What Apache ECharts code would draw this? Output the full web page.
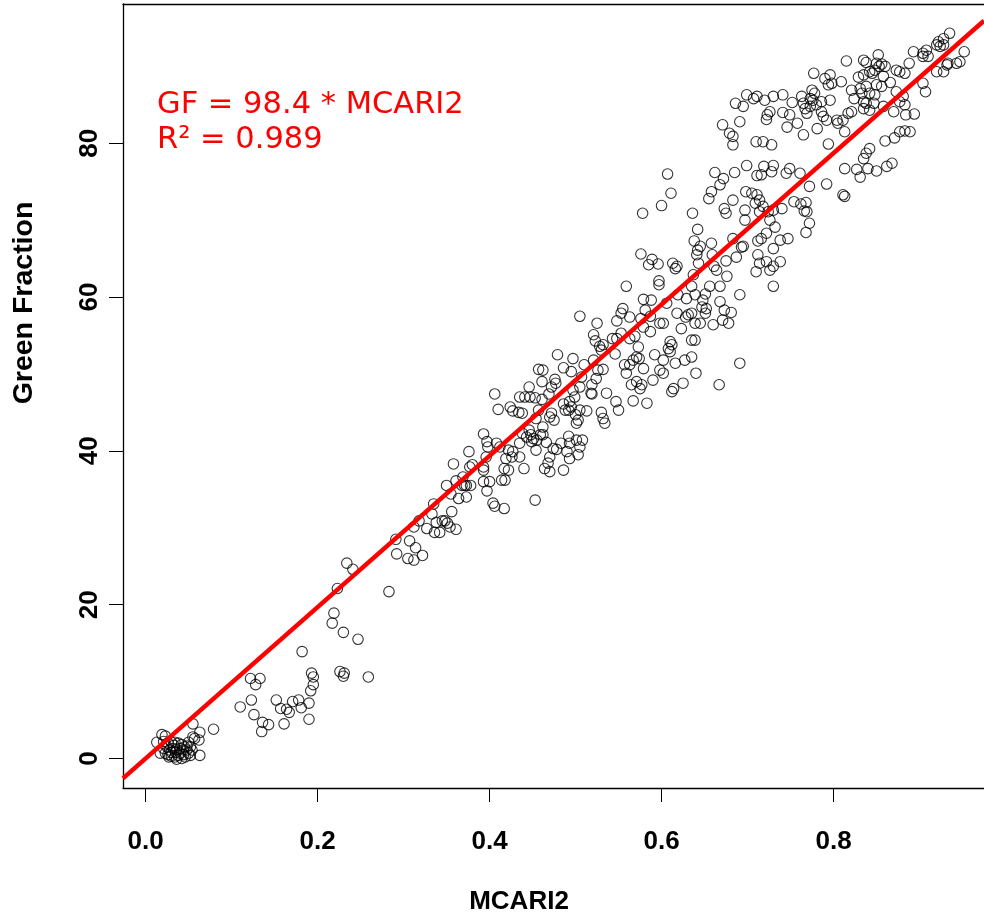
<!DOCTYPE html>
<html><head><meta charset="utf-8">
<script src="https://cdn.jsdelivr.net/npm/echarts@6/dist/echarts.min.js"></script>
<style>html,body{margin:0;padding:0;background:#fff}#c{width:984px;height:913px}</style>
</head><body><div id="c"></div>
<script>
// MCARI2 (x) and Green Fraction (y)
const mcari2 = [
0.013,0.019,0.023,0.021,0.026,0.030,0.034,0.038,0.042,0.048,0.052,0.055,0.055,0.063,0.062,0.057,0.079,0.063,0.017,0.023,0.026,0.030,0.034,0.036,0.040,0.044,0.050,0.052,0.028,0.032,0.036,0.040,0.044,0.048,0.025,0.021,0.030,0.035,0.042,0.050,0.054,0.038,0.046,0.033,0.045,0.027,
0.234,0.241,0.223,0.219,0.217,0.230,0.247,0.182,0.193,0.195,0.195,0.192,0.190,0.190,0.226,0.231,0.230,0.259,0.122,0.133,0.128,0.123,0.110,0.152,0.157,0.164,0.167,0.171,0.178,0.181,0.126,0.136,0.143,0.135,0.161,
0.283,0.291,0.292,0.307,0.314,0.305,0.312,0.322,0.312,0.318,0.327,0.333,0.335,0.338,0.336,0.342,0.345,0.348,0.351,0.356,0.354,0.361,0.350,0.355,0.358,0.361,0.364,0.368,0.371,0.373,0.378,0.369,0.373,0.376,0.377,0.380,0.393,0.397,0.398,0.396,0.393,0.393,0.393,0.400,0.397,0.404,0.406,0.406,0.410,
0.576,0.589,0.585,0.596,0.559,0.597,0.597,0.555,0.553,0.548,0.563,0.579,0.588,0.581,0.587,0.576,0.579,0.587,0.598,0.525,0.521,0.523,0.528,0.532,0.530,0.505,0.543,0.548,0.553,0.546,0.563,0.569,0.573,0.571,0.574,0.567,0.563,0.557,0.559,0.579,0.592,0.590,0.565,0.571,0.577,0.575,0.567,0.583,0.550,0.547,0.536,0.519,0.518,0.526,0.532,0.524,0.521,0.510,0.497,0.479,0.486,0.495,0.507,0.505,0.497,0.457,0.462,0.461,0.476,0.477,0.472,0.446,0.435,0.441,0.447,0.453,0.461,0.469,0.486,0.493,0.499,0.495,0.492,0.488,0.500,0.505,0.513,0.501,0.503,0.519,0.530,0.532,0.534,0.472,0.475,0.470,0.462,0.457,0.454,0.438,0.434,0.427,0.424,0.446,0.448,0.451,0.455,0.443,0.449,0.459,0.462,0.466,0.454,0.438,0.435,0.474,0.478,0.470,0.468,0.464,0.470,0.483,0.492,0.493,0.490,0.493,0.501,0.505,0.508,0.503,0.486,0.440,0.435,0.426,0.427,0.422,0.419,0.417,0.422,0.414,0.418,0.453,0.412,0.408,0.417,
0.683,0.710,0.718,0.728,0.607,0.662,0.672,0.685,0.699,0.711,0.716,0.719,0.730,0.728,0.745,0.668,0.658,0.655,0.611,0.600,0.578,0.636,0.673,0.675,0.683,0.698,0.705,0.711,0.714,0.709,0.697,0.697,0.714,0.718,0.724,0.730,0.740,0.726,0.732,0.722,0.642,0.638,0.645,0.642,0.658,0.683,0.693,0.695,0.712,0.716,0.738,0.747,0.730,
0.613,0.618,0.616,0.641,0.643,0.637,0.635,0.639,0.629,0.635,0.639,0.631,0.659,0.661,0.664,0.675,0.676,0.668,0.656,0.651,0.648,0.647,0.652,0.660,0.645,0.651,0.668,0.673,0.671,0.678,0.681,0.687,0.691,0.710,0.712,0.714,0.722,0.726,0.730,0.738,0.730,0.691,0.667,0.640,0.625,0.614,0.612,0.635,0.627,0.616,0.610,0.612,0.608,0.610,0.602,0.598,0.635,0.639,0.623,0.618,0.628,0.602,0.619,0.606,0.602,
0.686,0.695,0.699,0.707,0.711,0.720,0.730,0.741,0.671,0.691,0.679,0.683,0.726,0.723,0.722,0.741,0.752,0.749,0.746,0.758,0.765,0.781,0.763,0.765,0.773,0.767,0.769,0.776,0.778,0.775,0.773,0.780,0.786,0.788,0.792,0.786,0.777,0.790,0.796,0.798,0.794,0.809,0.796,0.804,0.805,0.811,0.817,0.821,0.813,0.815,0.821,0.824,0.831,0.833,0.835,0.829,0.835,0.835,0.838,0.842,0.845,0.848,0.852,0.850,0.853,0.856,0.860,0.858,0.856,0.838,0.842,0.848,0.850,0.838,0.842,0.835,0.847,0.858,0.866,0.873,0.877,0.883,0.888,0.873,0.893,0.904,0.908,0.910,0.920,0.924,0.928,0.932,0.933,0.943,0.947,0.952,0.920,0.904,0.907,0.794,0.761,0.772,0.792,0.749,0.811,0.813,0.813,0.827,0.831,0.840,0.850,0.862,0.868,0.835,0.838,0.842,0.860,0.871,0.877,0.883,0.889,0.870,0.877,0.883,0.884,0.894,
0.935,0.928,0.922,0.904,0.928,0.881,
0.754,0.762,0.768,0.766,0.769,0.772,0.768
];
const greenFraction = [
2.1,3.1,2.9,2.2,2.0,2.1,2.1,2.0,1.8,1.6,1.5,2.8,4.5,3.4,2.4,2.6,3.8,0.4,0.7,0.7,0.5,0.3,0.2,-0.1,0.7,0.5,0.7,0.4,1.1,1.3,1.2,1.3,1.1,1.1,1.5,1.3,0.8,0.8,0.0,2.1,1.1,0.4,0.2,1.7,1.5,0.2,
25.4,24.6,22.1,18.9,17.6,16.4,15.5,13.9,11.1,10.6,9.6,8.8,7.2,5.1,11.3,11.1,10.7,10.6,10.4,10.4,9.6,7.6,6.7,7.6,6.5,6.4,6.0,7.4,7.6,6.6,5.7,4.7,4.4,3.5,4.5,
21.7,28.5,26.6,28.3,27.4,26.0,25.8,26.4,30.1,30.9,29.9,31.8,33.1,30.7,29.4,29.4,30.9,30.9,30.6,32.1,30.1,29.8,35.5,34.4,38.3,36.1,33.8,35.5,35.5,35.5,35.5,36.6,34.0,39.9,37.9,38.2,42.2,41.2,40.5,39.2,37.9,37.5,36.0,36.0,34.8,33.2,32.8,47.4,45.4,
65.6,64.9,64.2,64.3,61.4,62.1,61.6,58.5,57.9,56.9,57.4,59.7,59.6,58.3,57.5,57.2,56.1,55.5,56.6,56.6,55.1,54.3,53.6,53.8,53.1,57.5,54.6,54.6,55.3,52.6,54.6,54.9,53.5,52.2,52.0,51.8,51.2,51.2,50.1,50.7,52.5,49.2,48.6,49.0,48.6,48.1,46.5,46.2,45.3,46.4,47.5,48.6,47.5,50.5,50.6,49.4,51.8,51.2,52.0,52.5,50.8,50.3,49.6,48.3,47.9,50.6,50.5,49.0,49.3,48.8,48.3,48.3,47.0,47.0,47.0,46.9,46.7,47.4,46.1,46.4,47.0,45.7,45.3,45.3,44.7,45.3,45.2,43.6,44.0,47.4,45.0,44.2,43.6,44.9,44.0,44.4,43.1,45.3,44.2,44.9,45.0,45.2,45.7,42.7,42.1,41.6,41.4,41.8,41.2,42.1,42.1,41.1,40.1,42.3,41.0,40.3,40.2,39.2,38.4,37.7,37.3,41.0,41.9,41.0,39.9,39.0,41.4,40.5,41.4,39.5,37.5,37.7,39.2,39.2,39.9,40.1,39.0,37.7,37.5,36.2,36.2,33.6,40.5,41.0,32.5,
79.8,80.2,80.2,79.8,76.0,76.2,75.4,76.2,77.1,75.8,75.9,77.0,77.1,76.3,76.1,74.6,73.7,72.8,73.5,71.9,70.9,70.9,71.5,70.9,72.6,73.7,73.5,73.3,72.6,72.2,71.3,70.0,71.1,71.8,71.1,71.3,71.5,70.0,69.1,68.3,68.8,67.3,66.6,66.1,67.0,67.6,66.5,66.6,67.3,67.6,67.4,67.6,66.3,
64.4,64.0,63.7,65.5,64.4,62.9,61.4,60.3,59.8,57.9,56.6,57.7,65.5,64.0,63.5,64.7,62.7,61.4,61.4,60.4,59.6,58.7,58.5,56.4,56.6,57.9,59.4,58.3,57.0,56.6,58.0,65.2,60.3,63.3,65.5,64.4,64.6,63.5,64.0,64.6,61.4,51.4,48.6,50.1,48.8,48.1,47.7,52.2,51.8,51.4,54.2,53.8,53.3,52.9,51.8,50.5,54.4,54.4,55.9,57.9,57.4,56.6,60.3,59.2,50.1,
85.2,84.8,86.3,85.8,86.1,85.6,86.1,86.3,82.4,82.8,81.3,80.9,84.1,83.7,83.1,84.0,85.3,83.7,82.1,82.6,81.1,81.9,86.1,85.2,85.8,84.5,83.9,85.6,86.5,86.9,84.8,85.0,85.4,83.5,83.0,84.1,89.1,88.4,88.9,87.8,87.6,88.0,85.6,83.0,82.6,83.0,83.9,84.1,81.5,90.7,86.9,85.8,87.1,86.5,85.4,88.6,88.9,90.8,90.5,89.3,89.1,89.5,91.5,90.4,90.0,90.3,90.0,88.7,87.4,87.4,86.5,86.3,87.6,85.2,84.3,84.5,85.2,84.8,87.9,89.5,89.3,89.1,90.4,86.7,91.9,91.7,92.1,91.3,92.8,92.6,92.8,90.2,90.4,90.4,90.6,91.9,89.3,87.8,86.7,79.9,76.1,74.4,74.7,76.7,73.3,73.1,76.7,76.6,75.6,76.7,76.4,77.0,77.4,78.0,78.7,79.3,80.3,80.7,81.5,81.6,81.5,84.1,85.4,85.0,83.7,83.8,
94.3,93.6,93.2,91.3,89.3,86.1,
72.4,72.1,72.3,71.2,71.1,69.6,68.4
];
const slope = 98.4;          // fitted GF = 98.4 * MCARI2
const rSquared = 0.989;
const xTicks = [0, 0.2, 0.4, 0.6, 0.8];
const yTicks = [0, 20, 40, 60, 80];
const xTitle = 'MCARI2';
const yTitle = 'Green Fraction';

// visible axis range (the plot region runs past the right edge of the picture)
const xMin = -0.0263, xMax = 0.975, yMin = -3.84, yMax = 98.11;

const points = mcari2.map((v, i) => [v, greenFraction[i]]);
const fitLine = [[xMin, slope * xMin], [xMax, slope * xMax]];

const chart = echarts.init(document.getElementById('c'), null, {renderer: 'canvas'});
const boldFont = 'Liberation Sans, Arial, sans-serif';
const boxLine = {show: true, onZero: false, lineStyle: {color: '#000', width: 1.3}};
chart.setOption({
  animation: false,
  backgroundColor: '#ffffff',
  grid: {left: 123, top: 4, right: 0, bottom: 125, show: false},
  xAxis: [{
    type: 'value', min: xMin, max: xMax, position: 'bottom',
    axisLine: boxLine,
    splitLine: {show: false},
    axisTick: {show: true, inside: false, length: 14, customValues: xTicks, lineStyle: {color: '#000', width: 1}},
    axisLabel: {customValues: xTicks, margin: 41, color: '#000', fontFamily: boldFont, fontWeight: 'bold', fontSize: 26,
      formatter: v => v.toFixed(1)}
  }, {
    type: 'value', min: xMin, max: xMax, position: 'top',
    axisLine: boxLine, splitLine: {show: false}, axisTick: {show: false}, axisLabel: {show: false}
  }],
  yAxis: {
    type: 'value', min: yMin, max: yMax, position: 'left',
    axisLine: boxLine,
    splitLine: {show: false},
    axisTick: {show: true, inside: false, length: 14, customValues: yTicks, lineStyle: {color: '#000', width: 1}},
    axisLabel: {customValues: yTicks, rotate: 90, margin: 20, color: '#000', fontFamily: boldFont, fontWeight: 'bold', fontSize: 26,
      formatter: v => String(Math.round(v))}
  },
  series: [
    {type: 'scatter', data: points, symbol: 'circle', symbolSize: 10.5,
     itemStyle: {color: 'rgba(0,0,0,0)', borderColor: '#000', borderWidth: 1.1},
     emphasis: {disabled: true}, silent: true, z: 2},
    {type: 'line', data: fitLine, symbol: 'none', clip: true,
     lineStyle: {color: '#ff0000', width: 4.5}, silent: true, z: 3}
  ],
  graphic: [
    {type: 'text', x: 519, y: 902, style: {text: xTitle, x: 0, y: 0, align: 'center', verticalAlign: 'middle', fill: '#000', font: 'bold 26px ' + boldFont}},
    {type: 'text', x: 24, y: 303, rotation: Math.PI / 2, style: {text: yTitle, x: 0, y: 0, align: 'center', verticalAlign: 'middle', fill: '#000', font: 'bold 28.5px ' + boldFont}},
    {type: 'text', x: 157, y: 105, style: {text: 'GF = ' + slope + ' * MCARI2', x: 0, y: 0, align: 'left', verticalAlign: 'middle', fill: '#ff0000', font: '30.5px DejaVu Sans, sans-serif'}},
    {type: 'text', x: 157, y: 140, style: {text: 'R\u00B2 = ' + rSquared, x: 0, y: 0, align: 'left', verticalAlign: 'middle', fill: '#ff0000', font: '30.5px DejaVu Sans, sans-serif'}}
  ]
});
</script>
</body></html>
